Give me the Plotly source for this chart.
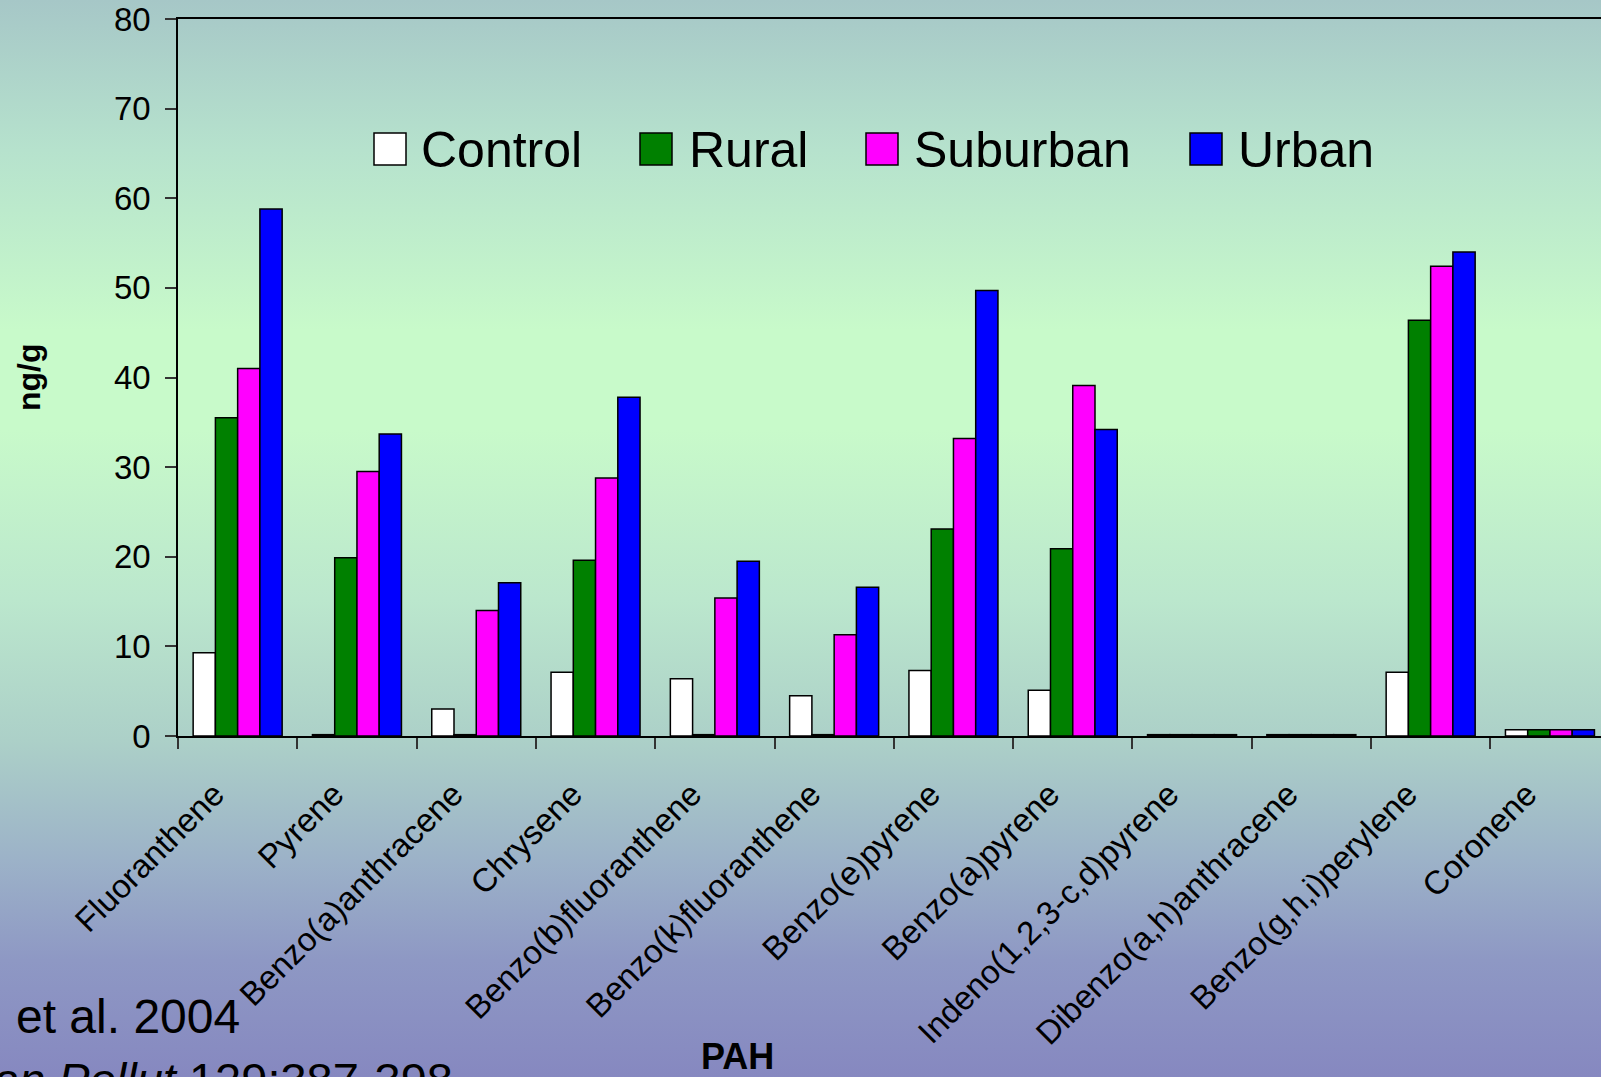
import base64
import plotly.graph_objects as go

# ---------------- data ----------------
categories = ["Fluoranthene", "Pyrene", "Benzo(a)anthracene", "Chrysene",
              "Benzo(b)fluoranthene", "Benzo(k)fluoranthene", "Benzo(e)pyrene",
              "Benzo(a)pyrene", "Indeno(1,2,3-c,d)pyrene", "Dibenzo(a,h)anthracene",
              "Benzo(g,h,i)perylene", "Coronene"]
control  = [9.3, 0.15, 3.0, 7.1, 6.4, 4.5, 7.3, 5.1, 0.15, 0.15, 7.1, 0.7]
rural    = [35.5, 19.9, 0.15, 19.6, 0.15, 0.15, 23.1, 20.9, 0.15, 0.15, 46.4, 0.7]
suburban = [41.0, 29.5, 14.0, 28.8, 15.4, 11.3, 33.2, 39.1, 0.15, 0.15, 52.4, 0.7]
urban    = [58.8, 33.7, 17.1, 37.8, 19.5, 16.6, 49.7, 34.2, 0.15, 0.15, 54.0, 0.7]
series_names = ["Control", "Rural", "Suburban", "Urban"]
y_ticks = [0, 10, 20, 30, 40, 50, 60, 70, 80]

# ---------------- styles ----------------
colors = ["#FFFFFF", "#008000", "#FF00FF", "#0000FF"]
FONT = "Liberation Sans, Arial, Helvetica, sans-serif"
W, H = 1601, 1077
L_PX, T_PX, B_PX = 178, 19, 736          # plot area left, top, zero-line (pixels)
CAT_W = 119.3                              # pixel width of one category
PW, PH = W - L_PX, B_PX - T_PX


def px_x(x):
    return (x - L_PX) / PW


def px_y(y):
    return (B_PX - y) / PH


fig = go.Figure()
for name, vals, col in zip(series_names, [control, rural, suburban, urban], colors):
    fig.add_trace(go.Bar(
        x=categories, y=vals, name=name, showlegend=False,
        marker=dict(color=col, line=dict(color="black", width=1.5)),
    ))

# background gradient (slide style)
stops = [(0, (166, 199, 199)), (150, (182, 226, 205)), (330, (200, 250, 202)),
         (430, (200, 250, 202)), (600, (187, 231, 205)), (740, (172, 208, 200)),
         (860, (156, 178, 200)), (960, (142, 152, 196)), (1077, (134, 136, 192))]
stop_xml = "".join(
    f'<stop offset="{p / H:.4f}" stop-color="rgb({c[0]},{c[1]},{c[2]})"/>' for p, c in stops)
svg = (f'<svg xmlns="http://www.w3.org/2000/svg" width="{W}" height="{H}" '
       f'viewBox="0 0 {W} {H}" preserveAspectRatio="none"><defs>'
       f'<linearGradient id="g" x1="0" y1="0" x2="0" y2="1">{stop_xml}</linearGradient>'
       f'</defs><rect x="0" y="0" width="{W}" height="{H}" fill="url(#g)"/></svg>')
src = "data:image/svg+xml;base64," + base64.b64encode(svg.encode()).decode()

x_end = -0.5 + PW / CAT_W

fig.update_layout(
    width=W, height=H,
    margin=dict(l=L_PX, r=0, t=T_PX, b=H - B_PX, pad=0),
    paper_bgcolor="rgba(0,0,0,0)", plot_bgcolor="rgba(0,0,0,0)",
    barmode="group", bargap=0.254, bargroupgap=0,
    font=dict(family=FONT, color="black"),
    images=[dict(source=src, xref="paper", yref="paper",
                 x=px_x(0), y=px_y(0), sizex=W / PW, sizey=H / PH,
                 xanchor="left", yanchor="top", sizing="stretch", layer="below")],
    xaxis=dict(
        type="category", range=[-0.5, x_end], tickson="boundaries",
        ticks="outside", ticklen=11, tickcolor="#333333", tickwidth=1.5,
        tickangle=-45, tickfont=dict(size=33, family=FONT),
        ticklabelstandoff=24, ticklabelshift=-23, ticklabeloverflow="allow",
        showline=True, linecolor="black", linewidth=1.5, mirror=True,
        showgrid=False, zeroline=False, fixedrange=True,
    ),
    yaxis=dict(
        range=[0, 80], tickvals=y_ticks, ticks="outside", ticklen=11,
        tickcolor="#333333", tickwidth=1.5, tickfont=dict(size=33, family=FONT),
        ticklabelstandoff=8, ticklabeloverflow="allow",
        showline=True, linecolor="black", linewidth=1.5,
        showgrid=False, zeroline=False, fixedrange=True,
    ),
)

# axis titles and citation as text
ann = []
ann.append(dict(text="<b>ng/g</b>", x=px_x(29), y=px_y(377), xref="paper", yref="paper",
                textangle=-90, showarrow=False, font=dict(size=32, family=FONT),
                xanchor="center", yanchor="middle"))
ann.append(dict(text="<b>PAH</b>", x=px_x(737), y=px_y(1056), xref="paper", yref="paper",
                showarrow=False, font=dict(size=36, family=FONT),
                xanchor="center", yanchor="middle"))
ann.append(dict(text="et al. 2004", x=px_x(14), y=px_y(1016), xref="paper", yref="paper",
                showarrow=False, font=dict(size=48, family=FONT),
                xanchor="left", yanchor="middle"))
ann.append(dict(text="<i>an Pollut</i> 129:387-398", x=px_x(-9), y=px_y(1079),
                xref="paper", yref="paper", showarrow=False,
                font=dict(size=47, family=FONT), xanchor="left", yanchor="middle"))

# custom legend (large swatches)
leg_box_x = [374, 640, 866, 1190]
leg_text_x = [419, 687, 912, 1236]
shapes = []
for name, col, bx, tx in zip(series_names, colors, leg_box_x, leg_text_x):
    shapes.append(dict(type="rect", xref="paper", yref="paper",
                       x0=px_x(bx), x1=px_x(bx + 32), y0=px_y(165), y1=px_y(133),
                       fillcolor=col, line=dict(color="black", width=1.5)))
    ann.append(dict(text=name, x=px_x(tx), y=px_y(150), xref="paper", yref="paper",
                    showarrow=False, font=dict(size=50, family=FONT),
                    xanchor="left", yanchor="middle"))

fig.update_layout(annotations=ann, shapes=shapes)
fig.write_html("out.html", config={"displayModeBar": False},
               post_script="document.body.style.margin='0';document.body.style.overflow='hidden';")
